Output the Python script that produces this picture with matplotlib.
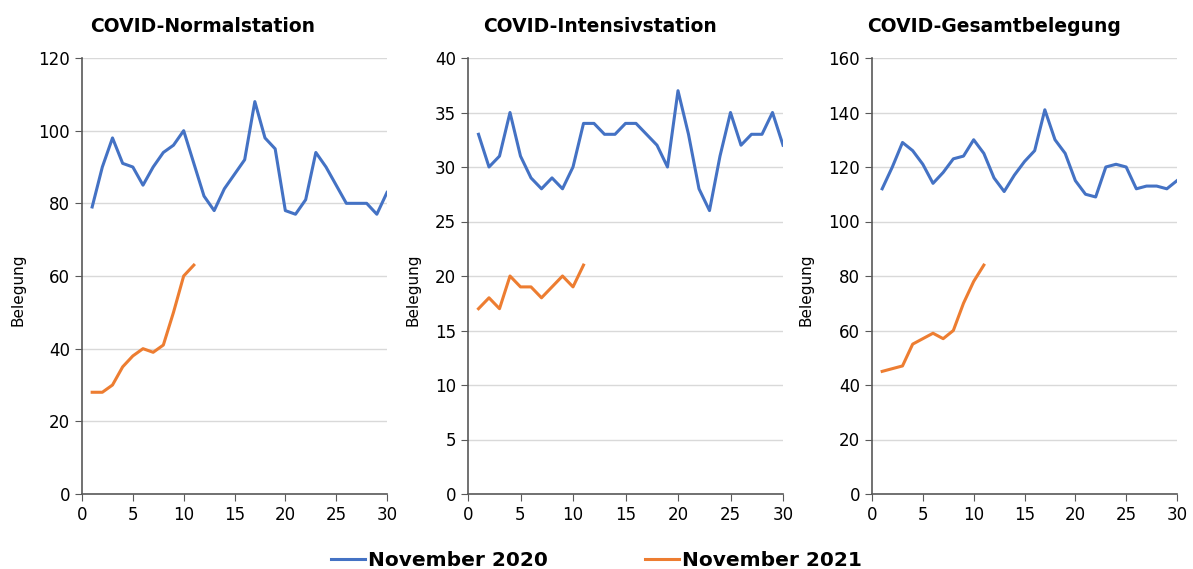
import matplotlib.pyplot as plt

days_2020 = list(range(1, 31))
days_2021 = list(range(1, 12))

normal_2020 = [79, 90, 98, 91, 90, 85, 90, 94, 96, 100, 91, 82, 78, 84, 88,
               92, 108, 98, 95, 78, 77, 81, 94, 90, 85, 80, 80, 80, 77, 83]
normal_2021 = [28, 28, 30, 35, 38, 40, 39, 41, 50, 60, 63]

intensiv_2020 = [33, 30, 31, 35, 31, 29, 28, 29, 28, 30, 34, 34, 33, 33, 34,
                 34, 33, 32, 30, 37, 33, 28, 26, 31, 35, 32, 33, 33, 35, 32]
intensiv_2021 = [17, 18, 17, 20, 19, 19, 18, 19, 20, 19, 21]

gesamt_2020 = [112, 120, 129, 126, 121, 114, 118, 123, 124, 130, 125, 116, 111, 117, 122,
               126, 141, 130, 125, 115, 110, 109, 120, 121, 120, 112, 113, 113, 112, 115]
gesamt_2021 = [45, 46, 47, 55, 57, 59, 57, 60, 70, 78, 84]

titles = ['COVID-Normalstation', 'COVID-Intensivstation', 'COVID-Gesamtbelegung']
y_max = [120, 40, 160]
y_step = [20, 5, 20]

blue = '#4472C4'
orange = '#ED7D31'

W, H = 1193, 569
fig = plt.figure(figsize=(W / 100, H / 100), dpi=100)

# pixel boxes of the three panels (left, right)
boxes = [(82, 387), (468, 783), (872, 1177)]
title_x = [90, 483, 867]
ylabel_x = [18, 413, 806]
top, bottom = 58, 494

series = [(normal_2020, normal_2021), (intensiv_2020, intensiv_2021), (gesamt_2020, gesamt_2021)]

for i, (s20, s21) in enumerate(series):
    l, r = boxes[i]
    ax = fig.add_axes([l / W, 1 - bottom / H, (r - l) / W, (bottom - top) / H])
    ax.plot(days_2020, s20, color=blue, lw=2.2, label='November 2020')
    ax.plot(days_2021, s21, color=orange, lw=2.2, label='November 2021')
    ax.set_xlim(0, 30)
    ax.set_ylim(0, y_max[i])
    ax.set_xticks(range(0, 31, 5))
    ax.set_yticks(range(0, y_max[i] + 1, y_step[i]))
    ax.grid(axis='y', color='#d9d9d9', lw=1)
    ax.set_axisbelow(True)
    for side in ['top', 'right']:
        ax.spines[side].set_visible(False)
    for side in ['left', 'bottom']:
        ax.spines[side].set_color('#595959')
        ax.spines[side].set_linewidth(1.2)
    ax.tick_params(axis='both', direction='out', length=5, color='#595959',
                   labelsize=12, labelcolor='black')
    fig.text(title_x[i] / W, 1 - 27 / H, titles[i], fontsize=13.5, fontweight='bold',
             ha='left', va='center')
    fig.text(ylabel_x[i] / W, 1 - 290 / H, 'Belegung', fontsize=11, rotation=90,
             ha='center', va='center')
    if i == 0:
        handles, labels = ax.get_legend_handles_labels()

fig.legend(handles, labels, loc='center', bbox_to_anchor=(0.5, 1 - 561 / H), ncol=2,
           frameon=False, prop={'size': 14.5, 'weight': 'bold'}, handlelength=1.7,
           handletextpad=0.15, columnspacing=4.8)

fig.savefig('out.png', dpi=100)
